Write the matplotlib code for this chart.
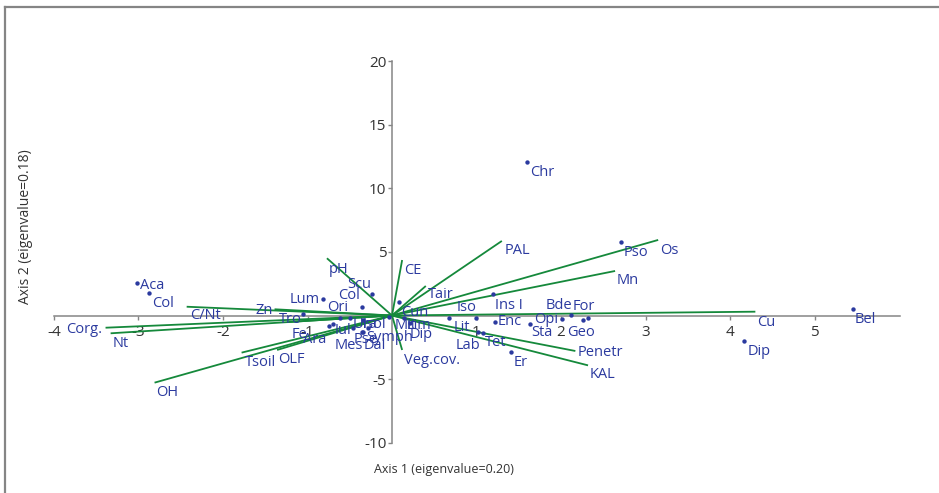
import matplotlib
matplotlib.use("Agg")
import matplotlib.pyplot as plt
from matplotlib.lines import Line2D

# ---------------- data ----------------
species_names = ["Aca", "Col", "Lum", "Col", "Scu", "Tro", "Ori", "Cun", "Chr", "Pso",
                 "Bel", "Dip", "Ins I", "Iso", "Lit", "Enc", "Sta", "Opi", "Bde", "For",
                 "Geo", "Tet", "Lab", "Er", "Ara", "Iul", "Ura", "Isol", "Pse", "Symph",
                 "Mes", "Dal", "Mit", "Lim", "Dip"]
species_x = [-3.02, -2.87, -0.82, -0.36, -0.24, -1.05, -0.61, 0.08, 1.60, 2.71,
             5.45, 4.17, 1.20, 0.99, 0.68, 1.22, 1.63, 2.01, 2.12, 2.32,
             2.26, 1.08, 1.02, 1.41, -0.75, -0.70, -0.50, -0.34, -0.46, -0.28,
             -0.36, -0.34, -0.04, 0.14, 0.21]
species_y = [2.58, 1.75, 1.27, 0.69, 1.67, 0.12, -0.17, 1.08, 12.07, 5.80,
             0.49, -2.03, 1.67, -0.17, -0.17, -0.49, -0.69, -0.30, 0.04, -0.17,
             -0.35, -1.40, -1.32, -2.89, -0.83, -0.67, -0.20, -0.35, -0.98, -0.98,
             -1.27, -1.30, -0.09, -0.20, -0.61]

env_names = ["C/Nt", "Corg.", "Nt", "OH", "Tsoil", "OLF", "Zn", "Fe", "pH", "CE",
             "Veg.cov.", "Tair", "PAL", "Os", "Mn", "Cu", "Penetr", "KAL"]
env_x = [-2.43, -3.39, -3.33, -2.81, -1.78, -1.36, -1.39, -1.22, -0.77, 0.12,
         0.12, 0.40, 1.30, 3.15, 2.64, 4.30, 2.17, 2.32]
env_y = [0.69, -0.96, -1.40, -5.28, -2.92, -2.71, 0.49, -0.51, 4.50, 4.36,
         -2.71, 2.32, 5.86, 5.94, 3.50, 0.30, -2.79, -3.92]

x_ticks = [-4, -3, -2, -1, 1, 2, 3, 4, 5]
y_ticks = [-10, -5, 5, 10, 15, 20]
x_label = "Axis 1 (eigenvalue=0.20)"
y_label = "Axis 2 (eigenvalue=0.18)"

# ---------------- label placement (styles, pixels) ----------------
sp_lab = [("left", "center", 3, -3), ("left", "top", 3, -3), ("right", "center", -3, 0),
          ("right", "bottom", -2, 4), ("right", "bottom", 0, 2), ("right", "top", -2, 2),
          ("center", "bottom", -3, 3), ("left", "top", 2, -3), ("left", "top", 3, -3),
          ("left", "top", 3, -3), ("left", "top", 2, -3), ("left", "top", 3, -3),
          ("left", "top", 2, -4), ("right", "bottom", 1, 3), ("left", "top", 4, -2),
          ("left", "center", 3, 0), ("left", "top", 2, -1), ("right", "center", -4, 0),
          ("right", "bottom", 1, 2), ("center", "bottom", -4, 4), ("center", "top", -2, -5),
          ("left", "top", 2, -2), ("right", "top", 2, -6), ("left", "top", 2, -3),
          ("right", "top", -2, -6), ("left", "top", 2, 1), ("left", "top", 3, 1),
          ("left", "top", -1, 3), ("left", "top", 0, -4), ("left", "top", -2, -2),
          ("right", "top", 1, -6), ("left", "top", 0, -6), ("left", "top", 6, -1),
          ("left", "top", 3, 0), ("left", "top", 0, -4)]
env_lab = [("left", "top", 3, -1), ("right", "center", -3, -2), ("left", "top", 2, -3),
           ("left", "top", 2, -2), ("left", "top", 3, -2), ("left", "top", 1, -2),
           ("right", "center", -2, -1), ("left", "top", 3, -5), ("left", "top", 2, -4),
           ("left", "top", 2, -3), ("left", "top", 2, -3), ("left", "top", 2, -1),
           ("left", "top", 3, -2), ("left", "top", 2, -3), ("left", "top", 2, -2),
           ("left", "top", 2, -3), ("left", "center", 2, -2), ("left", "top", 2, -2)]

BLUE = "#2b3a9f"
GREEN = "#15893b"
GRAY = "#858585"
FONT = ["Open Sans", "DejaVu Sans"]

plt.rcParams["font.family"] = FONT

W, H = 939, 493
fig = plt.figure(figsize=(W / 100, H / 100), dpi=100)
ax = fig.add_axes([0, 0, 1, 1])
ax.set_facecolor("white")

# pixel -> data mapping of the reference
x0_px, xs = 392.0, 84.5
y0_px, ys = 315.5, 12.72
ax.set_xlim(-x0_px / xs, (W - x0_px) / xs)
ax.set_ylim((y0_px - H) / ys, y0_px / ys)

for s in ["top", "right"]:
    ax.spines[s].set_visible(False)
ax.spines["left"].set_position(("data", 0))
ax.spines["bottom"].set_position(("data", 0))
ax.spines["left"].set_bounds(-10, 20)
ax.spines["bottom"].set_bounds(-4, (900 - x0_px) / xs)
for s in ["left", "bottom"]:
    ax.spines[s].set_color(GRAY)
    ax.spines[s].set_linewidth(1.1)
    ax.spines[s].set_zorder(1)

ax.set_xticks(x_ticks)
ax.set_xticklabels([str(v) for v in x_ticks])
ax.set_yticks(y_ticks)
ax.set_yticklabels([str(v) for v in y_ticks])
ax.tick_params(axis="both", direction="out", length=3, width=1, color=GRAY,
               labelcolor="#333333", labelsize=11)
ax.tick_params(axis="x", pad=4)
ax.tick_params(axis="y", pad=1)

# environmental vectors
for name, x, y, (ha, va, dx, dy) in zip(env_names, env_x, env_y, env_lab):
    ax.plot([0, x], [0, y], color=GREEN, lw=1.3, zorder=2, solid_capstyle="butt")
    ax.annotate(name, (x, y), xytext=(dx, dy), textcoords="offset pixels",
                ha=ha, va=va, color=BLUE, fontsize=10.5, zorder=4)

# species points
ax.scatter(species_x, species_y, s=10, color=BLUE, zorder=3, linewidths=0)
for name, x, y, (ha, va, dx, dy) in zip(species_names, species_x, species_y, sp_lab):
    ax.annotate(name, (x, y), xytext=(dx, dy), textcoords="offset pixels",
                ha=ha, va=va, color=BLUE, fontsize=10.5, zorder=4)

# axis titles
fig.text(444 / W, 1 - 470 / H, x_label, ha="center", va="center",
         fontsize=9, color="#333333")
fig.text(25.5 / W, 1 - 227 / H, y_label, ha="center", va="center",
         rotation=90, fontsize=10, color="#333333")

# frame around the figure (top and left visible)
fig.add_artist(Line2D([5 / W, 1], [1 - 7 / H, 1 - 7 / H], color=GRAY, lw=1.6,
                      transform=fig.transFigure))
fig.add_artist(Line2D([5 / W, 5 / W], [0, 1 - 7 / H], color=GRAY, lw=1.6,
                      transform=fig.transFigure))

fig.savefig("out.png", dpi=100, facecolor="white")
